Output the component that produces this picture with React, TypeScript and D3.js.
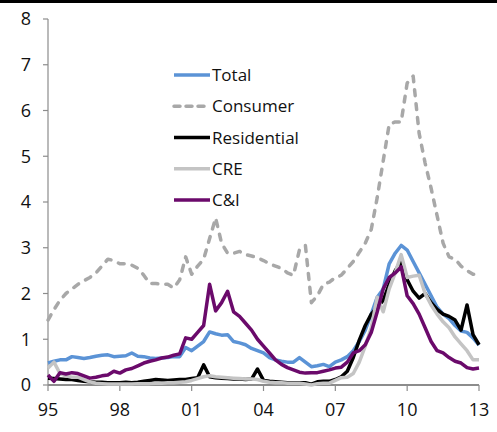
import React from 'react';
import * as d3 from 'd3';

// quarterly, 1995Q1 .. 2013Q1
const startYear = 1995;
const total = [
  0.48, 0.52, 0.55, 0.55, 0.62, 0.6, 0.58, 0.6, 0.63, 0.65, 0.66, 0.62, 0.63, 0.64, 0.7, 0.63,
  0.62, 0.59, 0.58, 0.59, 0.6, 0.62, 0.62, 0.82, 0.75, 0.85, 0.95, 1.16, 1.12, 1.09, 1.1, 0.95,
  0.92, 0.88, 0.8, 0.75, 0.7, 0.6, 0.55, 0.52, 0.5, 0.5, 0.6, 0.5, 0.4, 0.42, 0.45, 0.4,
  0.5, 0.55, 0.62, 0.75, 0.95, 1.2, 1.55, 1.92, 2.1, 2.65, 2.88, 3.05, 2.95, 2.7, 2.45, 2.2,
  1.95, 1.7, 1.55, 1.45, 1.3, 1.18, 1.15, 1.03, 0.87,
];
const consumer = [
  1.42, 1.65, 1.85, 2.0, 2.1, 2.2, 2.28, 2.35, 2.45, 2.6, 2.75, 2.72, 2.65, 2.65, 2.62, 2.55,
  2.4, 2.22, 2.22, 2.2, 2.2, 2.12, 2.3, 2.8, 2.42, 2.6, 2.75, 3.2, 3.65, 3.1, 2.88, 2.88,
  2.92, 2.85, 2.82, 2.78, 2.72, 2.65, 2.6, 2.55, 2.45, 2.4, 2.95, 3.05, 1.8, 1.95, 2.2, 2.25,
  2.35, 2.4, 2.55, 2.7, 2.9, 3.1, 3.4, 4.1, 4.9, 5.7, 5.75, 5.75, 6.6, 6.75, 5.5, 4.85,
  4.3, 3.7, 3.1, 2.8, 2.75, 2.6, 2.5, 2.42, 2.42,
];
const residential = [
  0.15, 0.14, 0.13, 0.12, 0.12, 0.1, 0.08, 0.07, 0.06, 0.06, 0.05, 0.05, 0.05, 0.06, 0.05, 0.06,
  0.08, 0.1, 0.12, 0.11, 0.1, 0.11, 0.12, 0.12, 0.14, 0.16, 0.44, 0.18, 0.16, 0.15, 0.14, 0.13,
  0.13, 0.12, 0.13, 0.35, 0.1, 0.08, 0.07, 0.06, 0.05, 0.05, 0.05, 0.05, 0.02, 0.07, 0.08, 0.08,
  0.12, 0.18, 0.3, 0.6, 0.98, 1.3, 1.55, 1.7, 1.85, 2.2, 2.5, 2.7, 2.3, 2.05, 1.9, 2.0,
  1.8, 1.65, 1.55, 1.5, 1.42, 1.2, 1.75, 1.1, 0.88,
];
const cre = [
  0.37, 0.5, 0.25, 0.2, 0.17, 0.17, 0.12, 0.07, 0.04, 0.03, 0.02, 0.02, 0.02, 0.02, 0.02, 0.03,
  0.03, 0.03, 0.04, 0.04, 0.05, 0.05, 0.06, 0.07, 0.1, 0.14, 0.18, 0.2, 0.18, 0.17, 0.16, 0.15,
  0.14, 0.13, 0.13, 0.12, 0.08, 0.06, 0.05, 0.05, 0.04, 0.04, 0.04, 0.02, 0.0, 0.03, 0.04, 0.04,
  0.1, 0.16, 0.17, 0.25, 0.5, 0.85, 1.25, 1.92, 1.6, 2.1, 2.45, 2.85, 2.35, 2.38, 2.4, 2.0,
  1.75, 1.55, 1.38, 1.25, 1.05, 0.9, 0.75, 0.55, 0.55,
];
const ci = [
  0.22, 0.08, 0.27, 0.24, 0.27, 0.25, 0.2, 0.15, 0.17, 0.2, 0.22, 0.3, 0.26, 0.33, 0.36, 0.42,
  0.48, 0.52, 0.55, 0.59, 0.61, 0.65, 0.68, 1.03, 1.0, 1.15, 1.3, 2.2, 1.62, 1.8, 2.05, 1.6,
  1.5, 1.35, 1.2, 1.0, 0.85, 0.7, 0.55, 0.45, 0.38, 0.33, 0.28, 0.26, 0.27, 0.27, 0.3, 0.33,
  0.37, 0.39, 0.5, 0.7, 0.75, 0.88, 1.15, 1.6, 2.1, 2.35, 2.45, 2.58, 1.95, 1.78, 1.55, 1.25,
  0.95, 0.75, 0.7, 0.6, 0.52, 0.48, 0.38, 0.35, 0.37,
];

const xTicks = [1995, 1998, 2001, 2004, 2007, 2010, 2013];
const xTickLabels = ['95', '98', '01', '04', '07', '10', '13'];
const yTicks = [0, 1, 2, 3, 4, 5, 6, 7, 8];

const seriesNames = ['Total', 'Consumer', 'Residential', 'CRE', 'C&I'];

const width = 497;
const height = 432;
const font = '"Open Sans", "DejaVu Sans", sans-serif';

const App: React.FC = () => {
  const x = d3.scaleLinear().domain([1995, 2013]).range([48, 479]);
  const y = d3.scaleLinear().domain([0, 8]).range([385, 19]);

  const series = [
    { name: seriesNames[0], values: total, color: '#5b93d6', dash: '' },
    { name: seriesNames[1], values: consumer, color: '#a8a8a8', dash: '6,8' },
    { name: seriesNames[2], values: residential, color: '#000000', dash: '' },
    { name: seriesNames[3], values: cre, color: '#c4c4c4', dash: '' },
    { name: seriesNames[4], values: ci, color: '#6b0a6b', dash: '' },
  ];

  const line = d3.line<number>()
    .x((_, i) => x(startYear + i / 4))
    .y(d => y(d));

  const legendY = d3.scalePoint<string>().domain(seriesNames).range([75, 200]);

  return (
    <svg width={width} height={height} style={{ position: 'absolute', left: 0, top: 0 }}>
      <rect width={width} height={height} fill="#fff" />
      <line x1={0} x2={width} y1={1.5} y2={1.5} stroke="#000" strokeWidth={3} />

      {/* axes */}
      <line x1={x(1995)} x2={x(1995)} y1={y(8)} y2={y(0)} stroke="#8c8c8c" strokeWidth={1.2} />
      <line x1={x(1995)} x2={x(2013)} y1={y(0)} y2={y(0)} stroke="#8c8c8c" strokeWidth={2} />
      {yTicks.map(t => (
        <g key={t}>
          <line x1={x(1995) - 5} x2={x(1995)} y1={y(t)} y2={y(t)} stroke="#8c8c8c" strokeWidth={1.2} />
          <text x={31} y={y(t)} dy="0.36em" textAnchor="end" fontSize={18} fontFamily={font} fill="#111">{t}</text>
        </g>
      ))}
      {xTicks.map((t, i) => (
        <g key={t}>
          <line x1={x(t)} x2={x(t)} y1={y(0)} y2={y(0) + 6} stroke="#8c8c8c" strokeWidth={1.2} />
          <text x={x(t)} y={416} textAnchor="middle" fontSize={18} fontFamily={font} fill="#111">{xTickLabels[i]}</text>
        </g>
      ))}

      {/* series */}
      {series.map(s => (
        <path key={s.name} d={line(s.values) || ''} fill="none" stroke={s.color}
          strokeWidth={3.5} strokeDasharray={s.dash || undefined}
          strokeLinecap={s.dash ? 'round' : 'butt'} strokeLinejoin="round" />
      ))}

      {/* legend */}
      {series.map(s => (
        <g key={s.name} transform={`translate(0,${legendY(s.name)})`}>
          <line x1={174} x2={210} y1={0} y2={0} stroke={s.color} strokeWidth={3.5}
            strokeDasharray={s.dash ? '6,6' : undefined} strokeLinecap={s.dash ? 'round' : 'butt'} />
          <text x={212} y={0} dy="0.36em" fontSize={17} fontFamily={font} fill="#111">{s.name}</text>
        </g>
      ))}
    </svg>
  );
};

export default App;
